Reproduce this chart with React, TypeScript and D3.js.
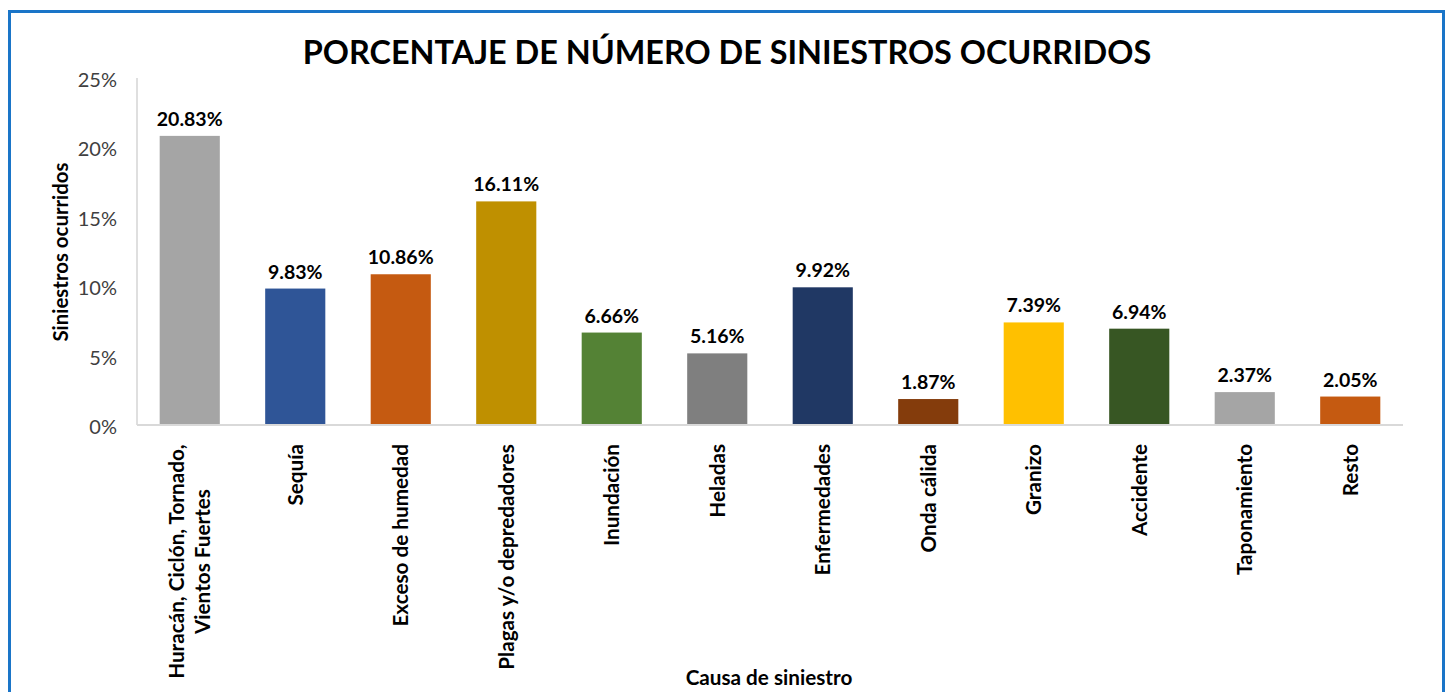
import React from "react";
import * as d3 from "d3";

const categories = [
  ["Huracán, Ciclón, Tornado,", "Vientos Fuertes"],
  ["Sequía"],
  ["Exceso de humedad"],
  ["Plagas y/o depredadores"],
  ["Inundación"],
  ["Heladas"],
  ["Enfermedades"],
  ["Onda cálida"],
  ["Granizo"],
  ["Accidente"],
  ["Taponamiento"],
  ["Resto"],
];
const values = [20.83, 9.83, 10.86, 16.11, 6.66, 5.16, 9.92, 1.87, 7.39, 6.94, 2.37, 2.05];
const colors = ["#A5A5A5", "#2F5597", "#C55A11", "#BF9000", "#548235", "#7F7F7F", "#203864", "#843C0C", "#FFC000", "#375623", "#A5A5A5", "#C55A11"];
const yTicks = [0, 5, 10, 15, 20, 25];

const W = 1450;
const H = 692;
const FONT = "Lato, 'Open Sans', sans-serif";
const XLAB_SIZE = 20.7;

function measure(text: string): number {
  try {
    const ctx = document.createElement("canvas").getContext("2d");
    if (!ctx) return text.length * 10;
    ctx.font = `bold ${XLAB_SIZE}px Lato`;
    return ctx.measureText(text).width;
  } catch (e) {
    return text.length * 10;
  }
}

export default function App() {
  const left = 137;
  const right = 1403;
  const top = 78;
  const bottom = 425;
  const idx = categories.map((_, i) => String(i));
  const x = d3.scaleBand().domain(idx).range([left, right]).paddingInner(0.43).paddingOuter(0.215);
  const y = d3.scaleLinear().domain([0, 25]).range([bottom, top]);

  return (
    <svg width={W} height={H} style={{ position: "absolute", left: 0, top: 0, background: "#fff" }} fontFamily={FONT}>
      <rect x={9.5} y={11.5} width={1434} height={700} fill="#fff" stroke="#1A75C8" strokeWidth={3} />
      <text x={727} y={64} textAnchor="middle" fontSize={32.4} fontWeight={700} fill="#000">
        PORCENTAJE DE NÚMERO DE SINIESTROS OCURRIDOS
      </text>
      {yTicks.map((t) => (
        <text key={t} x={117} y={y(t) + 2} dy="0.35em" textAnchor="end" fontSize={20} fill="#404040">
          {t}%
        </text>
      ))}
      <line x1={left} x2={left} y1={top} y2={bottom} stroke="#BFBFBF" strokeWidth={1} />
      {values.map((v, i) => (
        <g key={i}>
          <rect x={x(String(i))} y={y(v)} width={x.bandwidth()} height={bottom - y(v)} fill={colors[i]} />
          <text x={(x(String(i)) as number) + x.bandwidth() / 2} y={y(v) - 10} textAnchor="middle" fontSize={19.5} fontWeight={700} fill="#000">
            {v.toFixed(2)}%
          </text>
        </g>
      ))}
      <line x1={left} x2={right} y1={bottom} y2={bottom} stroke="#D9D9D9" strokeWidth={2} />
      {categories.map((lines, i) => {
        const cx = (x(String(i)) as number) + x.bandwidth() / 2;
        const n = lines.length;
        const maxW = Math.max(...lines.map(measure));
        const mid = -maxW / 2;
        return (
          <text key={i} transform={`translate(${cx},444) rotate(-90)`} textAnchor="middle" fontSize={XLAB_SIZE} fontWeight={700} fill="#000">
            {lines.map((l, j) => (
              <tspan key={j} x={mid} y={(j - (n - 1) / 2) * 26} dy="0.35em">
                {l}
              </tspan>
            ))}
          </text>
        );
      })}
      <text transform={`translate(68,252) rotate(-90)`} textAnchor="middle" fontSize={20.4} fontWeight={700} fill="#000">
        Siniestros ocurridos
      </text>
      <text x={769} y={685} textAnchor="middle" fontSize={20.7} fontWeight={700} fill="#000">
        Causa de siniestro
      </text>
    </svg>
  );
}
